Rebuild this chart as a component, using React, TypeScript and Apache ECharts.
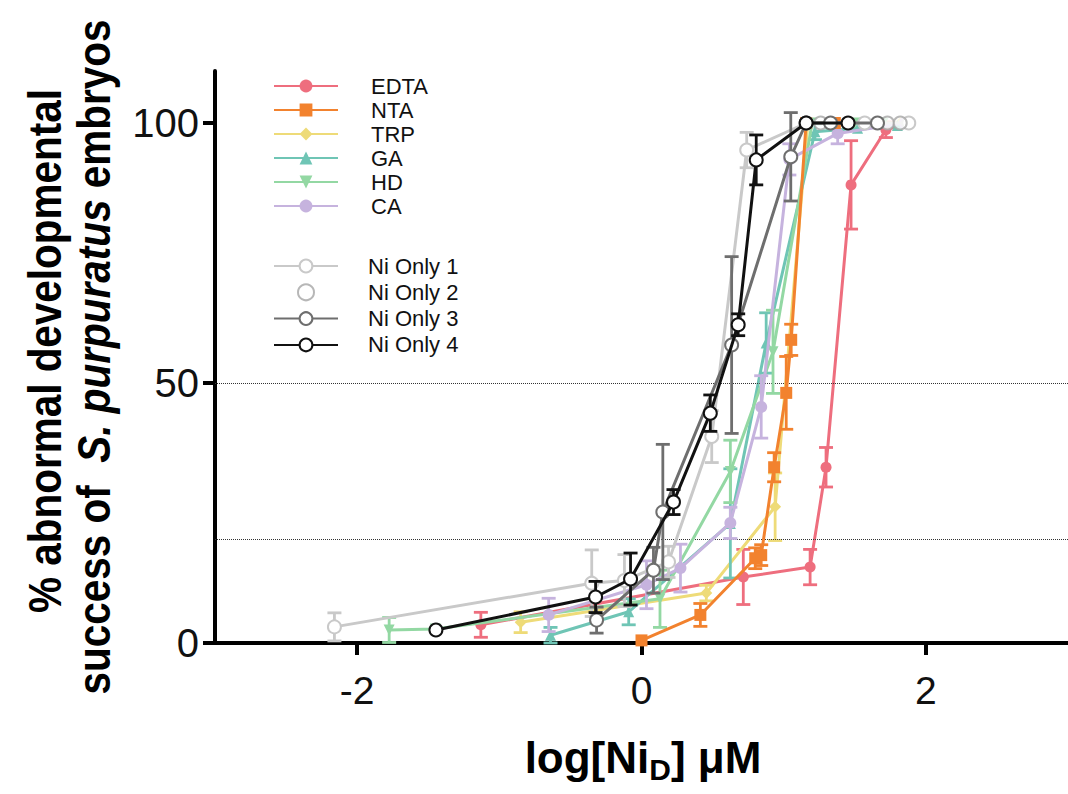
import React, { useEffect, useRef } from 'react';
import * as echarts from 'echarts';

const FONT = 'Liberation Sans, Arial, Helvetica, sans-serif';

const seriesNames = ['EDTA', 'NTA', 'TRP', 'GA', 'HD', 'CA', 'Ni Only 1', 'Ni Only 2', 'Ni Only 3', 'Ni Only 4'];
const seriesColors = ['#EE6E7E', '#F2822E', '#EEDB78', '#6FC5B5', '#93D8A3', '#C6B3DE', '#C9C9C9', '#A5A5A5', '#6E6E6E', '#111111'];

// each point: [log[NiD] (µM), % abnormal, error (±)]
const edta = [[-1.13, 3.5, 2.4], [0.716, 12.7, 5.3], [1.186, 14.6, 3.4], [1.298, 33.8, 3.8], [1.474, 88.1, 8.5], [1.719, 98.7, 1.5], [1.888, 100, 0]];
const nta = [[0.0, 0.5, 0], [0.414, 5.4, 2.2], [0.8, 16.3, 2], [0.842, 16.9, 2], [0.933, 33.8, 2.8], [1.018, 48.1, 7], [1.053, 58.3, 3], [1.158, 100, 0], [1.36, 100, 0]];
const trp = [[-0.85, 4.0, 2], [0.456, 9.6, 1.5], [0.94, 26.2, 6.5], [1.17, 100, 0], [1.82, 100, 0]];
const ga = [[-0.64, 1.5, 1.5], [-0.09, 6.0, 2.5], [0.625, 23.0, 10.5], [0.877, 57.7, 5.8], [1.22, 98.3, 1.5], [1.52, 99, 0], [1.8, 99.5, 0]];
const hd = [[-1.775, 2.5, 2.4], [-1.45, 2.7, 0], [0.13, 8.5, 5.5], [0.625, 33, 6], [0.925, 56, 8], [1.2, 100, 0], [1.5, 100, 0], [1.7, 100, 0]];
const ca = [[-0.653, 5.4, 3.2], [0.035, 11.2, 4.6], [0.274, 14.4, 4.6], [0.625, 23.1, 3], [0.842, 45.4, 6], [1.04, 93, 3], [1.38, 98, 2], [1.85, 100, 0]];
const ni1 = [[-2.16, 3.1, 2.7], [-0.35, 11.5, 6.4], [-0.12, 12, 5], [0.19, 15.6, 3], [0.494, 39.7, 5], [0.74, 94.8, 3.4], [1.16, 100, 0], [1.57, 100, 0], [1.88, 100, 0]];
const ni2 = [[1.26, 100, 0], [1.73, 100, 0], [1.82, 100, 0]];
const ni3 = [[-0.316, 4.4, 2.5], [0.084, 14, 4.4], [0.15, 25.2, 13], [0.634, 57.3, 17], [1.05, 93.5, 8.5], [1.158, 100, 0], [1.33, 100, 0], [1.66, 100, 0]];
const ni4 = [[-1.446, 2.5, 0], [-0.323, 8.85, 3], [-0.077, 12.3, 5], [0.225, 27.1, 2.4], [0.484, 44.2, 3.5], [0.68, 61.2, 2.1], [0.807, 92.9, 4.8], [1.158, 100, 0], [1.453, 100, 0]];

const seriesData = [edta, nta, trp, ga, hd, ca, ni1, ni2, ni3, ni4];
const symbols = ['circle', 'rect', 'diamond', 'triangle', 'path://M0,0L10,0L5,9Z', 'circle', 'emptyCircle', 'emptyCircle', 'emptyCircle', 'emptyCircle'];
const symbolSizes = [11, 12, 12, 11, 11, 12, 13, 13, 13, 13];
const zOrder = [2, 7, 3, 4, 5, 6, 8, 9, 10, 11];

const xTicks = [-2, 0, 2];
const yTicks = [0, 50, 100];
const refLines = [20, 50];

function makeErr(idx: number) {
  const color = seriesColors[idx];
  return {
    type: 'custom',
    name: seriesNames[idx] + ' err',
    data: seriesData[idx].filter((d) => d[2] > 0),
    z: zOrder[idx],
    silent: true,
    clip: false,
    encode: { x: 0, y: 1 },
    renderItem: (params: any, api: any) => {
      const x = api.value(0);
      const y = api.value(1);
      const e = api.value(2);
      const t = api.coord([x, y + e]);
      const b = api.coord([x, y - e]);
      const w = 7;
      const style = { stroke: color, lineWidth: 2.8 };
      return {
        type: 'group',
        children: [
          { type: 'line', shape: { x1: t[0], y1: t[1], x2: b[0], y2: b[1] }, style },
          { type: 'line', shape: { x1: t[0] - w, y1: t[1], x2: t[0] + w, y2: t[1] }, style },
          { type: 'line', shape: { x1: b[0] - w, y1: b[1], x2: b[0] + w, y2: b[1] }, style },
        ],
      };
    },
  };
}

function makeSeries(idx: number) {
  const color = seriesColors[idx];
  const isScatter = seriesNames[idx] === 'Ni Only 2';
  const base: any = {
    name: seriesNames[idx],
    data: seriesData[idx].map((d) => [d[0], d[1]]),
    symbol: symbols[idx],
    symbolSize: symbolSizes[idx],
    z: zOrder[idx],
    itemStyle: { color, borderWidth: idx >= 6 ? 2 : 0 },
    emphasis: { disabled: true },
  };
  if (isScatter) {
    return { ...base, type: 'scatter' };
  }
  return {
    ...base,
    type: 'line',
    showAllSymbol: true,
    lineStyle: { color, width: 3 },
    markLine:
      idx === 0
        ? {
            silent: true,
            symbol: 'none',
            label: { show: false },
            lineStyle: { type: 'dotted', color: '#333', width: 1 },
            data: refLines.map((v) => ({ yAxis: v })),
          }
        : undefined,
  };
}

export default function App() {
  const ref = useRef<HTMLDivElement>(null);
  useEffect(() => {
    if (!ref.current) return;
    const chart = echarts.init(ref.current, null, { renderer: 'svg' });
    const idxs = seriesNames.map((_, i) => i);
    const option: any = {
      animation: false,
      backgroundColor: '#ffffff',
      grid: { left: 215, top: 71, width: 855, height: 572, containLabel: false },
      xAxis: {
        type: 'value',
        min: -3,
        max: 3,
        axisLine: { onZero: false, lineStyle: { color: '#000', width: 4 } },
        axisTick: { customValues: xTicks, length: 12, lineStyle: { color: '#000', width: 4 } },
        axisLabel: { customValues: xTicks, fontSize: 39, color: '#111', margin: 28, fontFamily: FONT },
        splitLine: { show: false },
      },
      yAxis: {
        type: 'value',
        min: 0,
        max: 110,
        axisLine: { show: true, onZero: false, lineStyle: { color: '#000', width: 4 } },
        axisTick: { show: true, customValues: yTicks, length: 12, lineStyle: { color: '#000', width: 4 } },
        axisLabel: { customValues: yTicks, fontSize: 40, color: '#111', margin: 16, fontFamily: FONT },
        splitLine: { show: false },
      },
      legend: [
        {
          data: seriesNames.slice(0, 6),
          orient: 'vertical',
          left: 273,
          top: 75,
          padding: 0,
          itemWidth: 64,
          itemHeight: 16,
          itemGap: 2,
          selectedMode: false,
          textStyle: { fontSize: 22, color: '#111', fontFamily: FONT, lineHeight: 22, padding: [0, 0, 0, 28] },
        },
        {
          data: seriesNames.slice(6),
          orient: 'vertical',
          left: 273,
          top: 255,
          padding: 0,
          itemWidth: 64,
          itemHeight: 16,
          itemGap: 4.3,
          selectedMode: false,
          textStyle: { fontSize: 22, color: '#111', fontFamily: FONT, lineHeight: 22, padding: [0, 0, 0, 25] },
        },
      ],
      graphic: [
        {
          type: 'text',
          x: 643,
          y: 757,
          style: {
            text: '{m|log[Ni}{s|D}{m|] μM}',
            align: 'center',
            verticalAlign: 'middle',
            fill: '#000',
            rich: {
              m: { fontSize: 44, fontWeight: 'bold', fontFamily: FONT, lineHeight: 50, fill: '#000' },
              s: { fontSize: 30, fontWeight: 'bold', fontFamily: FONT, lineHeight: 30, padding: [24, 0, 0, 0], fill: '#000' },
            },
          },
        },
        {
          type: 'text',
          x: 45,
          y: 351,
          rotation: Math.PI / 2,
          scaleX: 0.88,
          style: {
            text: '% abnormal developmental',
            align: 'center',
            verticalAlign: 'middle',
            fontSize: 46,
            fontWeight: 'bold',
            fontFamily: FONT,
            fill: '#000',
          },
        },
        {
          type: 'text',
          x: 94,
          y: 357,
          rotation: Math.PI / 2,
          scaleX: 0.88,
          style: {
            text: '{b|success of  }{i|S. purpuratus}{b| embryos}',
            align: 'center',
            verticalAlign: 'middle',
            fill: '#000',
            rich: {
              b: { fontSize: 46, fontWeight: 'bold', fontFamily: FONT, fill: '#000' },
              i: { fontSize: 46, fontWeight: 'bold', fontStyle: 'italic', fontFamily: FONT, fill: '#000' },
            },
          },
        },
      ],
      series: [...idxs.map(makeErr), ...idxs.map(makeSeries)],
    };
    chart.setOption(option);
    return () => chart.dispose();
  }, []);
  return <div ref={ref} style={{ position: 'fixed', left: 0, top: 0, width: 1068, height: 794, background: '#fff' }} />;
}
